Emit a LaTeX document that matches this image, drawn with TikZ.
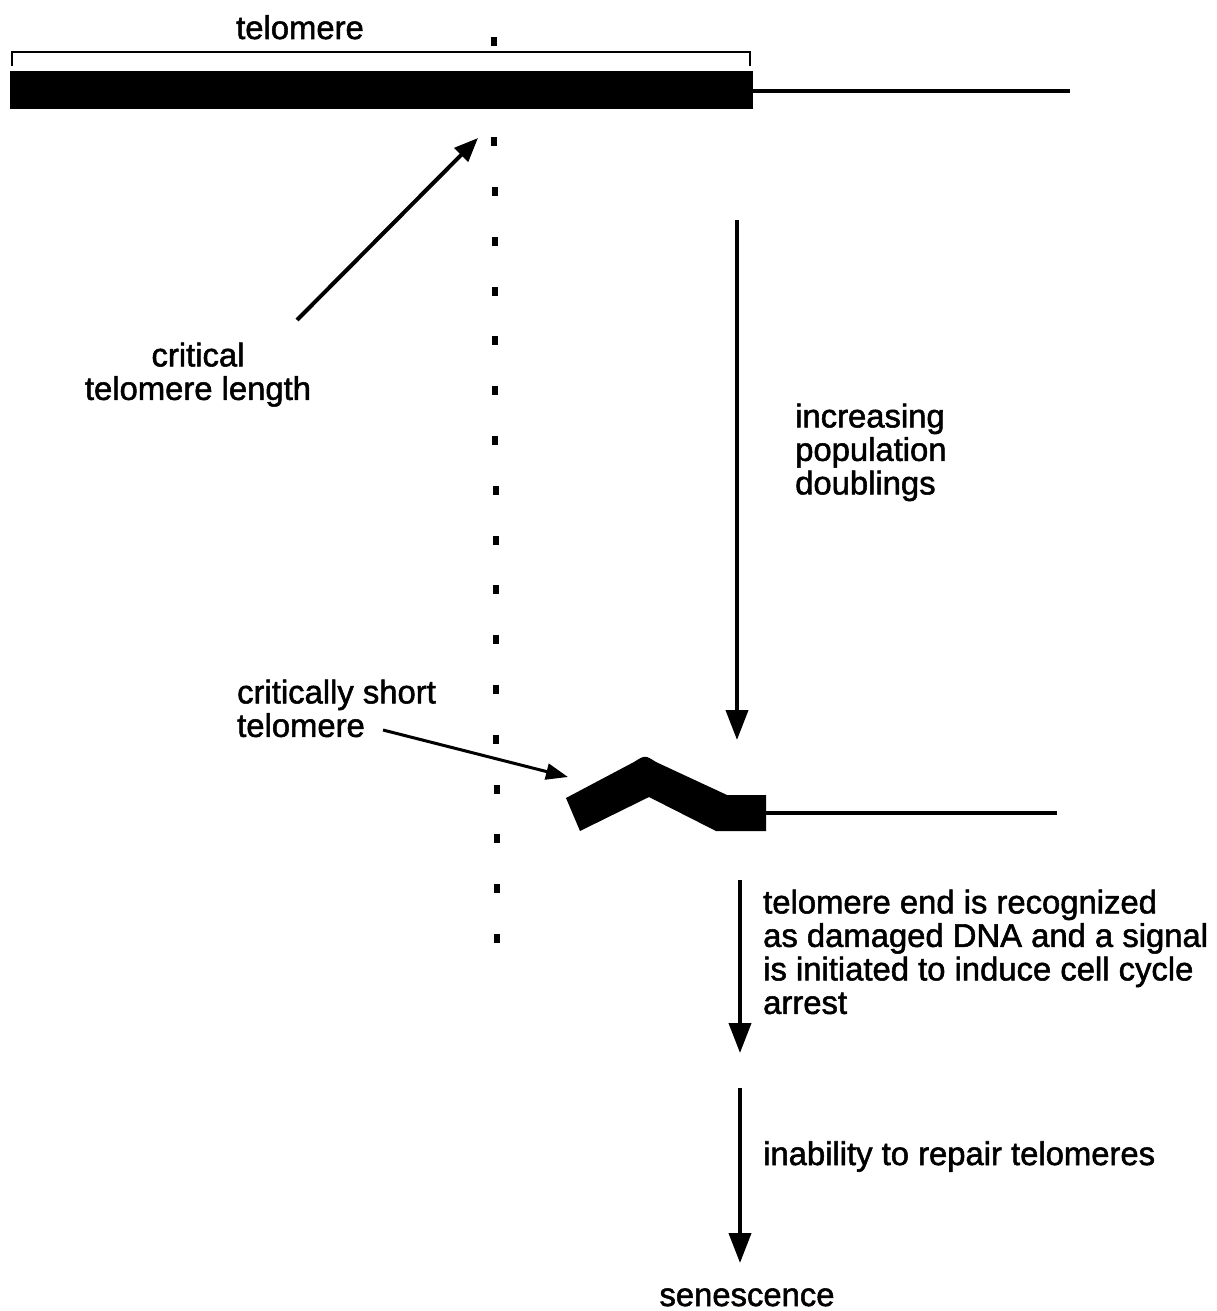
\documentclass[tikz,border=0pt]{standalone}
\usepackage{fontspec}
\setmainfont{Liberation Sans}
\newfontfamily\figfont[FakeBold=1.6]{Liberation Sans}
\usetikzlibrary{arrows.meta}
\begin{document}
\begin{tikzpicture}[x=1pt,y=-1pt,
  lbl/.style={inner sep=0pt, font=\figfont\fontsize{32.8}{33.5}\selectfont},
  flow/.style={line width=4pt, -{Triangle[length=30pt,width=22pt]}},
  pointer/.style={line width=4pt, -{Triangle[length=24pt,width=19pt]}},
  thinpointer/.style={line width=3pt, -{Triangle[length=22pt,width=16pt]}},
  strand/.style={line width=4pt},
  bracketline/.style={line width=2.5pt}
]
\useasboundingbox[fill=white] (0,0) rectangle (1217,1311);

% long telomere with its bracket and the chromosome strand
\fill (10,71) rectangle (753,109);
\coordinate (strandA) at (753,91);
\coordinate (strandAend) at (1070,91);
\draw[strand] (strandA) -- (strandAend);
\draw[bracketline] (12,66) -- (12,52) -- (750,52) -- (750,66);
\node[lbl, anchor=base] (tel) at (300,39) {telomere};

% critical length marker
\foreach \k in {0,...,18} {
  \fill ({494+3*\k/18-3},{42+49.8*\k-4.5}) rectangle ++(6,9);
}

\node[lbl, anchor=north, align=center] (crit) at (198,342.4) {critical\\telomere length};
\coordinate (critTail) at (297,320);
\coordinate (critTip) at (478,138);
\draw[pointer] (critTail) -- (critTip);

% population doublings
\coordinate (d1a) at (737,220);
\coordinate (d1b) at (737,740);
\draw[flow] (d1a) -- (d1b);
\node[lbl, anchor=north west, align=left] (pd) at (795,403.4) {increasing\\population\\doublings};

% short, bent telomere
\fill (580,831) -- (566,798) -- (634,762) .. controls (645,755) .. (656,762)
  -- (727,795) -- (766,795) -- (766,831) -- (716,831) -- (649,797) -- cycle;
\coordinate (strandB) at (766,813);
\coordinate (strandBend) at (1057,813);
\draw[strand] (strandB) -- (strandBend);

\node[lbl, anchor=north west, align=left] (cst) at (237,679.4) {critically short\\telomere};
\coordinate (cstTail) at (383,730);
\coordinate (cstTip) at (568,777);
\draw[thinpointer] (cstTail) -- (cstTip);

% signalling steps
\coordinate (d2a) at (740,880);
\coordinate (d2b) at (740,1053);
\draw[flow] (d2a) -- (d2b);
\node[lbl, anchor=north west, align=left] (dmg) at (763,889.4)
  {telomere end is recognized\\as damaged DNA and a signal\\is initiated to induce cell cycle\\arrest};

\coordinate (d3a) at (740,1088);
\coordinate (d3b) at (740,1263);
\draw[flow] (d3a) -- (d3b);
\node[lbl, anchor=base west] (rep) at (763,1165) {inability to repair telomeres};

\node[lbl, anchor=base] (sen) at (747,1306) {senescence};
\end{tikzpicture}
\end{document}
